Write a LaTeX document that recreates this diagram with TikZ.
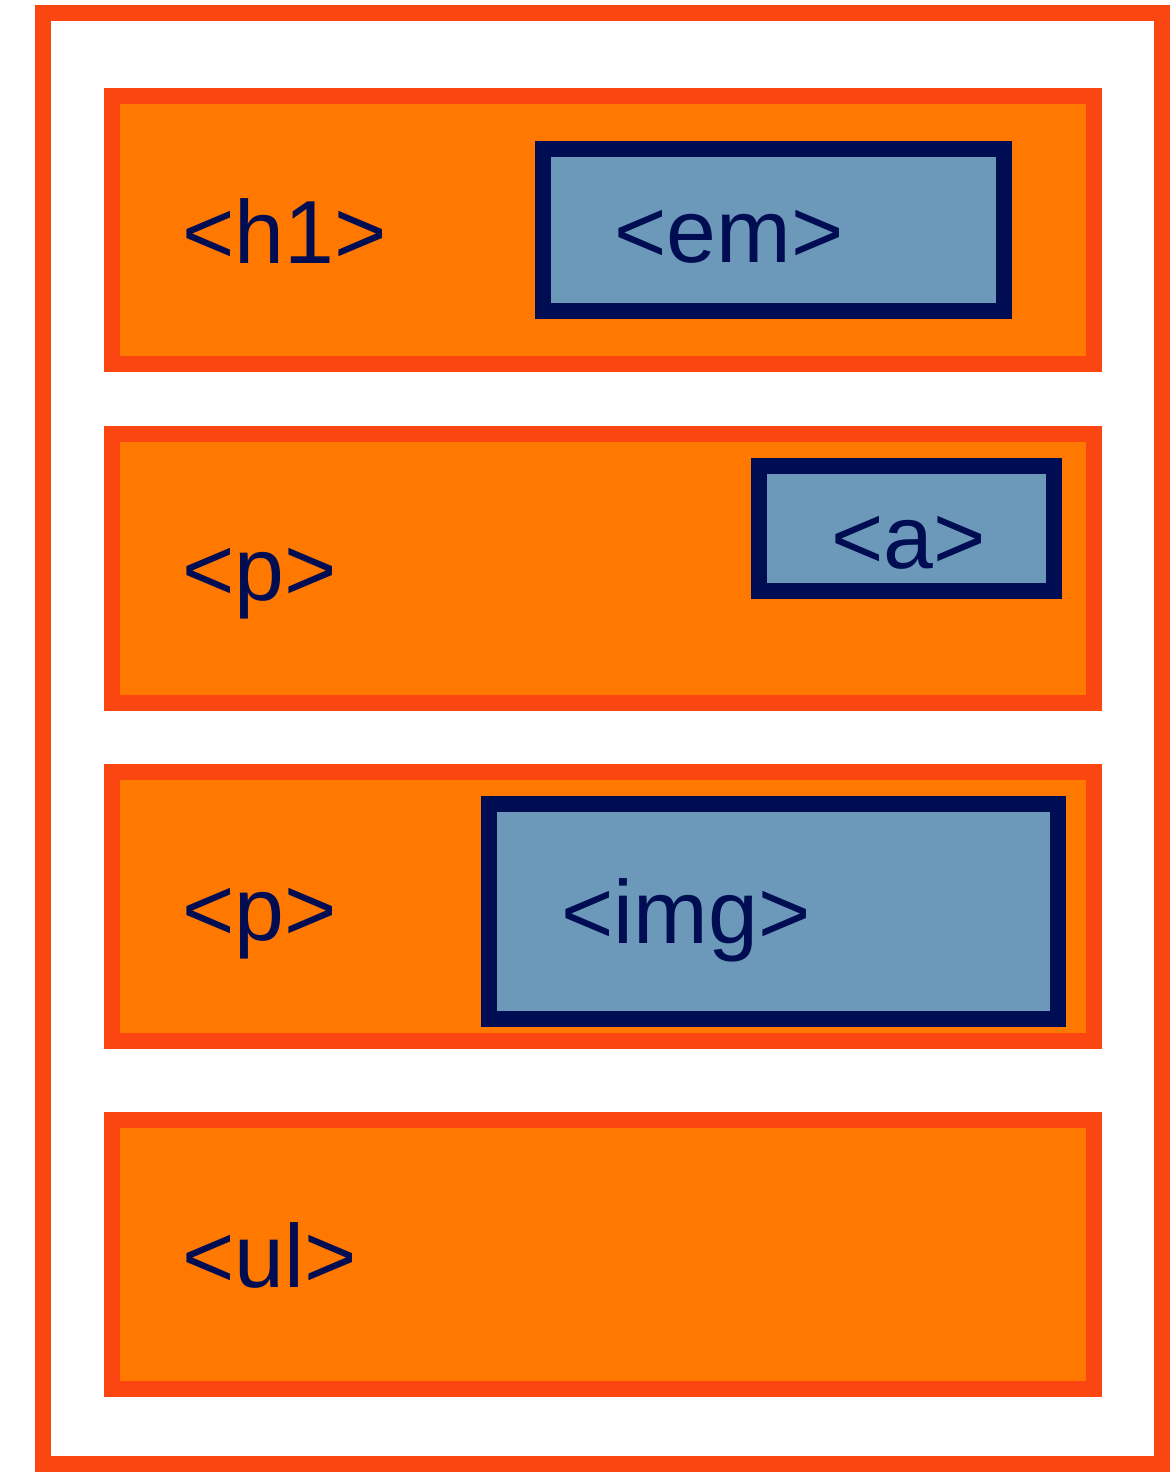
\documentclass[tikz,border=0pt]{standalone}
\usepackage{fontspec}
\setmainfont{Liberation Sans}
\usepackage{xcolor}
\definecolor{rojizo}{RGB}{252, 70, 17}
\definecolor{naranja}{RGB}{255, 120, 0}
\definecolor{azulGris}{RGB}{108, 152, 186}
\definecolor{azulOscuro}{RGB}{0, 13, 82}
\usepackage{tikz}
\usetikzlibrary{positioning}
\tikzstyle{pageframe}=[rectangle, draw=rojizo, fill=white,
                       line width=0.32cm, inner sep=0pt]
\tikzstyle{block}    =[rectangle, draw=rojizo, fill=naranja,
                       line width=0.32cm, inner sep=0pt,
                       minimum width=19.64cm, minimum height=5.38cm]
\tikzstyle{tagbox}   =[rectangle, draw=azulOscuro, fill=azulGris,
                       line width=0.32cm, inner sep=0pt]
\tikzstyle{tagtext}  =[anchor=base west, inner sep=0pt, text=azulOscuro,
                       font=\fontsize{51}{60}\selectfont]

\begin{document}
\begin{tikzpicture}[x=0.02cm, y=-0.02cm]
    \useasboundingbox (0,0) rectangle (1173,1473);

    \draw (602.5,738.5) node (frame) [pageframe, minimum width=22.38cm, minimum height=29.02cm] {};

    \draw (603,230) node (h1) [block] {};
    \draw (603,568.5) node (p1) [block] {};
    \draw (603,906.5) node (p2) [block] {};
    \draw (603,1254.5) node (ul) [block] {};

    \draw (773.5,230) node (em) [tagbox, minimum width=9.22cm, minimum height=3.24cm] {};
    \draw (906.5,528.5) node (a) [tagbox, minimum width=5.9cm, minimum height=2.5cm] {};
    \draw (773.5,911.5) node (img) [tagbox, minimum width=11.38cm, minimum height=4.3cm] {};

    \node (h1text) [tagtext] at (182,263) {<h1>};
    \node (p1text) [tagtext] at (182,600) {<p>};
    \node (p2text) [tagtext] at (182,940) {<p>};
    \node (ultext) [tagtext] at (182,1287) {<ul>};
    \node (emtext) [tagtext] at (614,262) {<em>};
    \node (atext) [tagtext] at (831,568) {<a>};
    \node (imgtext) [tagtext] at (561,943) {<img>};

\end{tikzpicture}
\end{document}
